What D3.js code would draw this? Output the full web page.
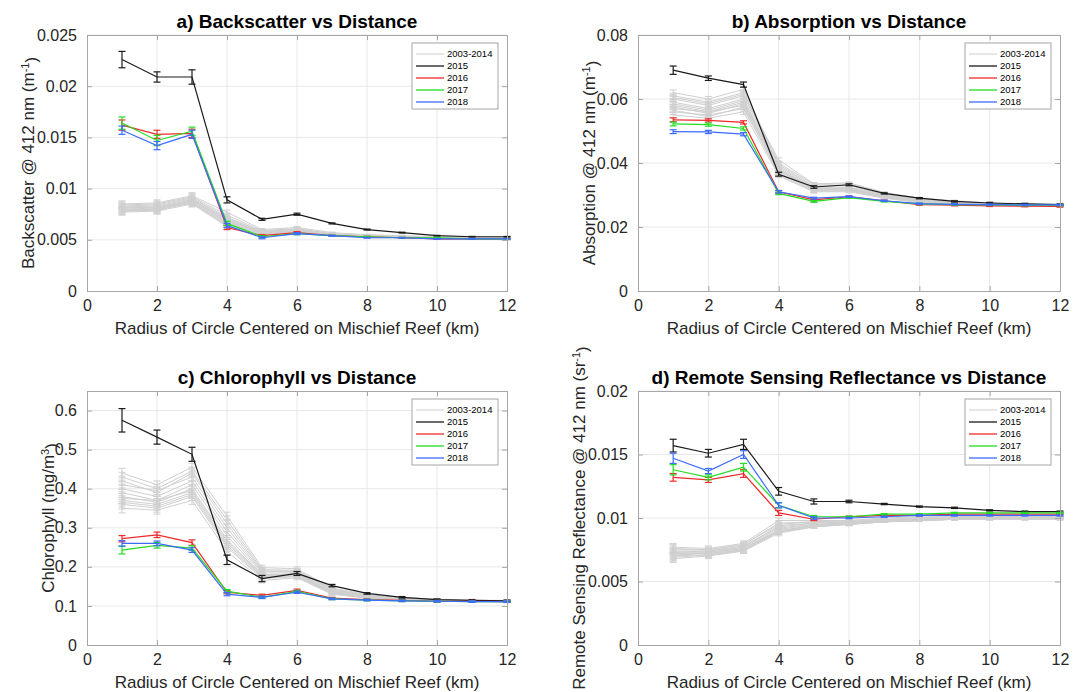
<!DOCTYPE html>
<html>
<head>
<meta charset="utf-8">
<script src="https://cdn.jsdelivr.net/npm/d3@7"></script>
<style>
body { margin: 0; background: #fff; }
text { font-family: "Liberation Sans", Arial, Helvetica, sans-serif; }
</style>
</head>
<body>
<script>
// radius of the circle (km), same for every panel
var radius = [1, 2, 3, 4, 5, 6, 7, 8, 9, 10, 11, 12];
var legendYears = ["2003-2014", "2015", "2016", "2017", "2018"];
var xTicks = [0, 2, 4, 6, 8, 10, 12];

// a) backscatter @ 412 nm
var bbTicks = [0, 0.005, 0.01, 0.015, 0.02, 0.025];
var bbGrey = [
    [0.0078,0.0079,0.0086,0.0065,0.0056,0.0058,0.0054,0.0053,0.0052,0.0051,0.0051,0.0051],
    [0.0080,0.0081,0.0088,0.0068,0.0057,0.0059,0.0055,0.0053,0.0052,0.0052,0.0051,0.0051],
    [0.0082,0.0083,0.0090,0.0071,0.0058,0.0060,0.0055,0.0054,0.0053,0.0052,0.0052,0.0051],
    [0.0077,0.0078,0.0085,0.0063,0.0055,0.0057,0.0054,0.0052,0.0052,0.0051,0.0051,0.0050],
    [0.0084,0.0085,0.0092,0.0074,0.0059,0.0061,0.0056,0.0054,0.0053,0.0052,0.0052,0.0052],
    [0.0079,0.0080,0.0087,0.0066,0.0056,0.0058,0.0054,0.0053,0.0052,0.0051,0.0051,0.0051],
    [0.0081,0.0082,0.0089,0.0069,0.0057,0.0059,0.0055,0.0053,0.0052,0.0052,0.0051,0.0051],
    [0.0083,0.0084,0.0091,0.0072,0.0058,0.0060,0.0056,0.0054,0.0053,0.0052,0.0052,0.0051],
    [0.0078,0.0080,0.0086,0.0064,0.0055,0.0058,0.0054,0.0053,0.0052,0.0051,0.0051,0.0050],
    [0.0080,0.0079,0.0088,0.0067,0.0056,0.0059,0.0055,0.0053,0.0052,0.0052,0.0051,0.0051],
    [0.0085,0.0086,0.0093,0.0077,0.0060,0.0062,0.0057,0.0055,0.0054,0.0053,0.0052,0.0052],
    [0.0082,0.0081,0.0089,0.0070,0.0057,0.0060,0.0055,0.0054,0.0053,0.0052,0.0052,0.0051]
];
var bbGreyErr = [0.0003,0.0003,0.0003,0.0002,0.0001,0.0001,0.00005,0.00005,0.00004,0.00003,0.00003,0.00003];
var bbYears = [
    [0.0226,0.0209,0.0209,0.0089,0.0070,0.0075,0.0066,0.0060,0.0057,0.0054,0.0053,0.0053],
    [0.0162,0.0153,0.0154,0.0062,0.0054,0.0057,0.0054,0.0053,0.0052,0.0051,0.0051,0.0051],
    [0.0164,0.0147,0.0156,0.0066,0.0053,0.0056,0.0054,0.0053,0.0052,0.0052,0.0051,0.0051],
    [0.0157,0.0142,0.0153,0.0064,0.0052,0.0056,0.0054,0.0052,0.0052,0.0051,0.0051,0.0051]
];
var bbYearsErr = [
    [0.0008,0.0005,0.0007,0.0003,0.0001,0.0001,0.00005,0.00005,0.00004,0.00003,0.00003,0.00003],
    [0.0005,0.0004,0.0004,0.0002,0.0001,0.0001,0.00005,0.00004,0.00003,0.00003,0.00003,0.00003],
    [0.0006,0.0005,0.0004,0.0002,0.0001,0.0001,0.00005,0.00004,0.00003,0.00003,0.00003,0.00003],
    [0.0004,0.0004,0.0004,0.0002,0.0001,0.0001,0.00005,0.00004,0.00003,0.00003,0.00003,0.00003]
];

// b) absorption @ 412 nm
var absTicks = [0, 0.02, 0.04, 0.06, 0.08];
var absGrey = [
    [0.056,0.055,0.057,0.037,0.0315,0.0315,0.0293,0.0278,0.0273,0.0270,0.0268,0.0267],
    [0.058,0.056,0.059,0.038,0.032,0.032,0.0297,0.0281,0.0275,0.0271,0.0269,0.0268],
    [0.060,0.058,0.061,0.039,0.0325,0.0325,0.0300,0.0284,0.0277,0.0272,0.0270,0.0269],
    [0.055,0.054,0.056,0.036,0.031,0.031,0.0290,0.0276,0.0272,0.0269,0.0267,0.0266],
    [0.062,0.060,0.063,0.040,0.0333,0.0335,0.0305,0.0288,0.0280,0.0274,0.0271,0.0270],
    [0.057,0.056,0.058,0.0375,0.0318,0.0318,0.0295,0.0280,0.0274,0.0270,0.0268,0.0267],
    [0.059,0.057,0.060,0.0385,0.0322,0.0322,0.0298,0.0282,0.0276,0.0271,0.0269,0.0268],
    [0.061,0.059,0.062,0.0395,0.0328,0.0330,0.0302,0.0286,0.0278,0.0273,0.0270,0.0269],
    [0.0565,0.0545,0.0575,0.0365,0.0312,0.0313,0.0292,0.0277,0.0273,0.0269,0.0268,0.0266],
    [0.0585,0.0565,0.0595,0.038,0.032,0.0322,0.0296,0.0281,0.0275,0.0271,0.0269,0.0268],
    [0.0605,0.0585,0.0615,0.041,0.0335,0.0338,0.0308,0.0290,0.0282,0.0275,0.0272,0.0271],
    [0.0575,0.0555,0.0585,0.0375,0.0317,0.0316,0.0294,0.0279,0.0274,0.0270,0.0268,0.0267]
];
var absGreyErr = [0.0008,0.0008,0.0008,0.0006,0.0004,0.0003,0.0002,0.0002,0.0002,0.0002,0.0002,0.0002];
var absYears = [
    [0.0690,0.0665,0.0645,0.0365,0.0325,0.0332,0.0305,0.0290,0.0280,0.0275,0.0272,0.0270],
    [0.0535,0.0533,0.0527,0.0310,0.0285,0.0295,0.0282,0.0270,0.0268,0.0266,0.0265,0.0264],
    [0.0522,0.0520,0.0508,0.0305,0.0280,0.0292,0.0280,0.0272,0.0270,0.0269,0.0268,0.0268],
    [0.0498,0.0497,0.0490,0.0310,0.0290,0.0295,0.0282,0.0273,0.0271,0.0270,0.0269,0.0269]
];
var absYearsErr = [
    [0.0013,0.0007,0.0008,0.0006,0.0004,0.0003,0.0002,0.0002,0.0002,0.0002,0.0002,0.0002],
    [0.0006,0.0005,0.0005,0.0004,0.0003,0.0002,0.0002,0.0002,0.0002,0.0002,0.0002,0.0002],
    [0.0006,0.0005,0.0005,0.0004,0.0003,0.0002,0.0002,0.0002,0.0002,0.0002,0.0002,0.0002],
    [0.0006,0.0005,0.0005,0.0004,0.0003,0.0002,0.0002,0.0002,0.0002,0.0002,0.0002,0.0002]
];

// c) chlorophyll
var chlTicks = [0, 0.1, 0.2, 0.3, 0.4, 0.5, 0.6];
var chlGrey = [
    [0.36,0.35,0.38,0.25,0.170,0.175,0.132,0.121,0.116,0.113,0.112,0.111],
    [0.39,0.37,0.41,0.28,0.180,0.182,0.137,0.123,0.117,0.114,0.113,0.112],
    [0.42,0.39,0.44,0.31,0.190,0.188,0.142,0.126,0.119,0.115,0.114,0.113],
    [0.35,0.345,0.37,0.24,0.165,0.172,0.130,0.120,0.115,0.112,0.111,0.110],
    [0.44,0.41,0.455,0.33,0.198,0.195,0.146,0.129,0.121,0.117,0.115,0.114],
    [0.37,0.36,0.39,0.26,0.175,0.178,0.134,0.122,0.116,0.113,0.112,0.111],
    [0.40,0.38,0.42,0.29,0.184,0.185,0.139,0.124,0.118,0.114,0.113,0.112],
    [0.43,0.40,0.445,0.32,0.193,0.191,0.144,0.127,0.120,0.116,0.114,0.113],
    [0.365,0.355,0.385,0.255,0.172,0.176,0.133,0.121,0.116,0.113,0.112,0.111],
    [0.38,0.365,0.40,0.27,0.178,0.180,0.136,0.123,0.117,0.114,0.112,0.111],
    [0.41,0.395,0.43,0.30,0.187,0.190,0.141,0.125,0.119,0.115,0.113,0.112],
    [0.375,0.37,0.395,0.265,0.176,0.183,0.135,0.122,0.117,0.113,0.112,0.111]
];
var chlGreyErr = [0.012,0.010,0.010,0.010,0.006,0.005,0.003,0.002,0.002,0.002,0.002,0.002];
var chlYears = [
    [0.575,0.532,0.488,0.218,0.170,0.183,0.152,0.132,0.122,0.116,0.114,0.113],
    [0.272,0.282,0.262,0.135,0.127,0.140,0.120,0.116,0.114,0.112,0.112,0.111],
    [0.243,0.255,0.248,0.138,0.122,0.137,0.118,0.115,0.113,0.112,0.111,0.111],
    [0.260,0.260,0.243,0.130,0.122,0.135,0.118,0.115,0.113,0.112,0.111,0.111]
];
var chlYearsErr = [
    [0.030,0.018,0.018,0.012,0.008,0.005,0.003,0.002,0.002,0.002,0.002,0.002],
    [0.008,0.007,0.007,0.004,0.003,0.003,0.002,0.002,0.002,0.002,0.002,0.002],
    [0.010,0.007,0.006,0.004,0.003,0.003,0.002,0.002,0.002,0.002,0.002,0.002],
    [0.007,0.006,0.006,0.004,0.003,0.003,0.002,0.002,0.002,0.002,0.002,0.002]
];

// d) remote sensing reflectance @ 412 nm
var rrsTicks = [0, 0.005, 0.01, 0.015, 0.02];
var rrsGrey = [
    [0.0070,0.0071,0.0075,0.0089,0.0094,0.0095,0.0097,0.0098,0.0099,0.0099,0.0099,0.0099],
    [0.0073,0.0073,0.0077,0.0092,0.0095,0.0096,0.0098,0.0099,0.0100,0.0100,0.0100,0.0100],
    [0.0075,0.0075,0.0079,0.0095,0.0097,0.0097,0.0099,0.0100,0.0100,0.0101,0.0101,0.0101],
    [0.0068,0.0070,0.0074,0.0088,0.0093,0.0095,0.0097,0.0098,0.0099,0.0099,0.0099,0.0099],
    [0.0077,0.0076,0.0080,0.0098,0.0098,0.0098,0.0100,0.0101,0.0101,0.0101,0.0101,0.0101],
    [0.0071,0.0072,0.0075,0.0090,0.0094,0.0095,0.0097,0.0098,0.0099,0.0100,0.0100,0.0100],
    [0.0074,0.0074,0.0078,0.0093,0.0096,0.0097,0.0098,0.0099,0.0100,0.0100,0.0100,0.0100],
    [0.0076,0.0075,0.0079,0.0096,0.0097,0.0098,0.0099,0.0100,0.0101,0.0101,0.0101,0.0101],
    [0.0069,0.0071,0.0074,0.0089,0.0093,0.0095,0.0097,0.0098,0.0099,0.0099,0.0099,0.0099],
    [0.0072,0.0072,0.0076,0.0091,0.0095,0.0096,0.0098,0.0099,0.0099,0.0100,0.0100,0.0100],
    [0.0073,0.0074,0.0077,0.0094,0.0096,0.0097,0.0098,0.0099,0.0100,0.0100,0.0100,0.0100],
    [0.0070,0.0073,0.0076,0.0090,0.0094,0.0096,0.0097,0.0098,0.0099,0.0100,0.0100,0.0100]
];
var rrsGreyErr = [0.0003,0.0002,0.0002,0.0002,0.0001,0.0001,0.00005,0.00005,0.00005,0.00005,0.00005,0.00005];
var rrsYears = [
    [0.0157,0.0151,0.0158,0.0121,0.0113,0.0113,0.0111,0.0109,0.0108,0.0106,0.0105,0.0105],
    [0.0132,0.0130,0.0135,0.0104,0.0099,0.0101,0.0102,0.0102,0.0103,0.0103,0.0103,0.0103],
    [0.0138,0.0132,0.0140,0.0110,0.0101,0.0101,0.0103,0.0103,0.0104,0.0104,0.0104,0.0104],
    [0.0147,0.0137,0.0150,0.0110,0.0100,0.0100,0.0101,0.0102,0.0102,0.0102,0.0102,0.0102]
];
var rrsYearsErr = [
    [0.0005,0.0003,0.0004,0.0003,0.0002,0.0001,0.00005,0.00005,0.00005,0.00005,0.00005,0.00005],
    [0.0003,0.0002,0.0003,0.0002,0.0001,0.00005,0.00005,0.00005,0.00005,0.00005,0.00005,0.00005],
    [0.0004,0.0002,0.0003,0.0002,0.0001,0.00005,0.00005,0.00005,0.00005,0.00005,0.00005,0.00005],
    [0.0004,0.0002,0.0003,0.0002,0.0001,0.00005,0.00005,0.00005,0.00005,0.00005,0.00005,0.00005]
];

var w = 1079,
    h = 692;

var greyColor = "#cfcfcf",
    yearColors = ["#1a1a1a", "#ee2a2a", "#22dd22", "#3d6bff"],
    boxColor = "#a6a6a6",
    gridColor = "#e8e8e8",
    textColor = "#262626";

var panels = [
    { title: "a) Backscatter vs Distance", ylabel: ["Backscatter @ 412 nm (m", "-1", ")"],
      ticks: bbTicks, ymax: 0.025, grey: bbGrey, greyErr: bbGreyErr, years: bbYears, yearsErr: bbYearsErr,
      left: 87, right: 507, top: 35, bottom: 291, labelX: 34 },
    { title: "b) Absorption vs Distance", ylabel: ["Absorption @ 412 nm (m", "-1", ")"],
      ticks: absTicks, ymax: 0.08, grey: absGrey, greyErr: absGreyErr, years: absYears, yearsErr: absYearsErr,
      left: 638, right: 1060, top: 35, bottom: 291, labelX: 595 },
    { title: "c) Chlorophyll vs Distance", ylabel: ["Chlorophyll (mg/m", "3", ")"],
      ticks: chlTicks, ymax: 0.65, grey: chlGrey, greyErr: chlGreyErr, years: chlYears, yearsErr: chlYearsErr,
      left: 87, right: 507, top: 391, bottom: 645, labelX: 54 },
    { title: "d) Remote Sensing Reflectance vs Distance", ylabel: ["Remote Sensing Reflectance @ 412 nm (sr", "-1", ")"],
      ticks: rrsTicks, ymax: 0.02, grey: rrsGrey, greyErr: rrsGreyErr, years: rrsYears, yearsErr: rrsYearsErr,
      left: 638, right: 1060, top: 391, bottom: 645, labelX: 585 }
];

var fmt = d3.format("~g");

var svg = d3.select("body").append("svg")
    .attr("width", w)
    .attr("height", h);

function drawSeries(g, x, y, values, errs, color, width) {
    var line = d3.line()
        .x(function(d, i) { return x(radius[i]); })
        .y(function(d) { return y(d); });

    g.append("path")
        .datum(values)
        .attr("d", line)
        .attr("fill", "none")
        .attr("stroke", color)
        .attr("stroke-width", width);

    var bars = g.append("g")
        .attr("stroke", color)
        .attr("stroke-width", width);

    values.forEach(function(v, i) {
        var cx = x(radius[i]),
            y0 = y(v - errs[i]),
            y1 = y(v + errs[i]);
        bars.append("line").attr("x1", cx).attr("x2", cx).attr("y1", y0).attr("y2", y1);
        bars.append("line").attr("x1", cx - 3.5).attr("x2", cx + 3.5).attr("y1", y0).attr("y2", y0);
        bars.append("line").attr("x1", cx - 3.5).attr("x2", cx + 3.5).attr("y1", y1).attr("y2", y1);
    });
}

function drawPanel(p) {
    var x = d3.scaleLinear().domain([0, 12]).range([p.left, p.right]);
    var y = d3.scaleLinear().domain([0, p.ymax]).range([p.bottom, p.top]);
    var g = svg.append("g");

    // grid
    g.append("g").selectAll("line")
        .data(xTicks.slice(1, -1))
        .enter().append("line")
        .attr("x1", function(d) { return x(d); })
        .attr("x2", function(d) { return x(d); })
        .attr("y1", p.top).attr("y2", p.bottom)
        .attr("stroke", gridColor);
    g.append("g").selectAll("line")
        .data(p.ticks.slice(1))
        .enter().append("line")
        .attr("y1", function(d) { return y(d); })
        .attr("y2", function(d) { return y(d); })
        .attr("x1", p.left).attr("x2", p.right)
        .attr("stroke", gridColor);

    // data: grey years first, then 2015..2018 on top
    p.grey.forEach(function(s) {
        drawSeries(g, x, y, s, p.greyErr, greyColor, 1);
    });
    p.years.forEach(function(s, k) {
        drawSeries(g, x, y, s, p.yearsErr[k], yearColors[k], 1.2);
    });

    // axes, ticks inside on all four sides (matlab box)
    var xAxisB = d3.axisBottom(x).tickValues(xTicks).tickSize(-5).tickFormat(fmt).tickPadding(9);
    var xAxisT = d3.axisTop(x).tickValues(xTicks).tickSize(-5).tickFormat("");
    var yAxisL = d3.axisLeft(y).tickValues(p.ticks).tickSize(-5).tickFormat(fmt).tickPadding(10);
    var yAxisR = d3.axisRight(y).tickValues(p.ticks).tickSize(-5).tickFormat("");

    var axes = [
        g.append("g").attr("transform", "translate(0," + p.bottom + ")").call(xAxisB),
        g.append("g").attr("transform", "translate(0," + p.top + ")").call(xAxisT),
        g.append("g").attr("transform", "translate(" + p.left + ",0)").call(yAxisL),
        g.append("g").attr("transform", "translate(" + p.right + ",0)").call(yAxisR)
    ];
    axes.forEach(function(a) {
        a.selectAll("path").attr("stroke", boxColor);
        a.selectAll("line").attr("stroke", boxColor);
        a.selectAll("text")
            .attr("fill", textColor)
            .style("font-size", "16px");
    });

    // title
    g.append("text")
        .attr("x", (p.left + p.right) / 2)
        .attr("y", p.top - 7)
        .attr("text-anchor", "middle")
        .style("font-size", "19px")
        .style("font-weight", "bold")
        .attr("fill", "#000")
        .text(p.title);

    // x label
    g.append("text")
        .attr("x", (p.left + p.right) / 2)
        .attr("y", p.bottom + 43)
        .attr("text-anchor", "middle")
        .style("font-size", "17px")
        .attr("fill", textColor)
        .text("Radius of Circle Centered on Mischief Reef (km)");

    // y label with superscript
    var yl = g.append("text")
        .attr("transform", "translate(" + p.labelX + "," + (p.top + p.bottom) / 2 + ")rotate(-90)")
        .attr("text-anchor", "middle")
        .style("font-size", "17px")
        .attr("fill", textColor);
    yl.append("tspan").text(p.ylabel[0]);
    yl.append("tspan").attr("dy", "-0.45em").style("font-size", "11px").text(p.ylabel[1]);
    yl.append("tspan").attr("dy", "0.45em").text(p.ylabel[2]);

    // legend
    var lx = p.right - 95,
        ly = p.top + 8;
    var leg = g.append("g").attr("transform", "translate(" + lx + "," + ly + ")");
    leg.append("rect")
        .attr("width", 86).attr("height", 66)
        .attr("fill", "#fff")
        .attr("stroke", boxColor);
    legendYears.forEach(function(name, k) {
        var ry = 11 + k * 12;
        leg.append("line")
            .attr("x1", 4).attr("x2", 32)
            .attr("y1", ry).attr("y2", ry)
            .attr("stroke", k == 0 ? greyColor : yearColors[k - 1])
            .attr("stroke-width", k == 0 ? 1 : 1.3);
        leg.append("text")
            .attr("x", 35).attr("y", ry)
            .attr("dy", "0.35em")
            .style("font-size", "9.5px")
            .attr("fill", "#000")
            .text(name);
    });
}

panels.forEach(drawPanel);
</script>
</body>
</html>
